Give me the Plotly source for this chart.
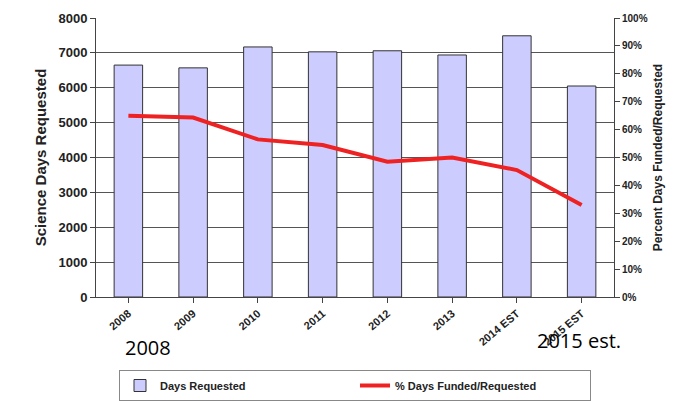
import plotly.graph_objects as go

years = ["2008", "2009", "2010", "2011", "2012", "2013", "2014 EST", "2015 EST"]
days_requested = [6650, 6570, 7170, 7030, 7060, 6940, 7490, 6050]
pct_funded = [65, 64.3, 56.5, 54.5, 48.5, 50, 45.5, 33]

fig = go.Figure()
fig.add_trace(go.Bar(x=years, y=days_requested, name="<b>Days Requested</b>",
                     marker=dict(color="#ccccff", line=dict(color="#333333", width=1)),
                     width=0.44))
fig.add_trace(go.Scatter(x=years, y=pct_funded, name="<b>% Days Funded/Requested</b>",
                         yaxis="y2", mode="lines",
                         line=dict(color="#ee2222", width=4)))

L, R, T, B = 88, 71, 10, 112
pw, ph = 677 - L - R, 401 - T - B


def px(x, y):
    return (x - L) / pw, (289 - y) / ph


fig.update_layout(
    width=677, height=401, paper_bgcolor="white", plot_bgcolor="white",
    margin=dict(l=L, r=R, t=T, b=B, autoexpand=False),
    font=dict(family="Liberation Sans", color="#222222"),
    showlegend=True,
    legend=dict(orientation="h", x=0.5, xanchor="center", y=px(0, 362)[1], yanchor="top",
                bordercolor="#888888", borderwidth=1,
                font=dict(size=11, family="Liberation Sans"),
                entrywidth=190, itemwidth=30),
    xaxis=dict(tickangle=-40, tickfont=dict(size=11, family="Liberation Sans"),
               tickvals=years, ticktext=[f"<b>{y}</b>" for y in years],
               showline=True, linecolor="#444444", ticks="outside", automargin=False),
    yaxis=dict(range=[0, 8000], dtick=1000, showgrid=True, gridcolor="#555555",
               showline=True, linecolor="#444444", ticks="outside", automargin=False,
               tickvals=list(range(0, 8001, 1000)),
               ticktext=[f"<b>{v}</b>" for v in range(0, 8001, 1000)],
               tickfont=dict(size=13, family="Liberation Sans"),
               title=dict(text="<b>Science Days Requested</b>", font=dict(size=15), standoff=8)),
    yaxis2=dict(range=[0, 100], overlaying="y", side="right",
                tickvals=list(range(0, 101, 10)),
                ticktext=[f"<b>{v}%</b>" for v in range(0, 101, 10)],
                showgrid=False, showline=True, linecolor="#444444",
                ticks="outside", tickfont=dict(size=10), automargin=False,
                title=dict(text="<b>Percent Days Funded/Requested</b>", font=dict(size=12), standoff=6)),
)
for text, x, y in [("2008", 115, 355), ("2015 est.", 615, 348)]:
    ax, ay = px(x, y)
    fig.add_annotation(text=text, x=ax, y=ay, xref="paper", yref="paper", showarrow=False,
                       font=dict(size=20, family="Open Sans", color="black"))
fig.write_html("out.html")
